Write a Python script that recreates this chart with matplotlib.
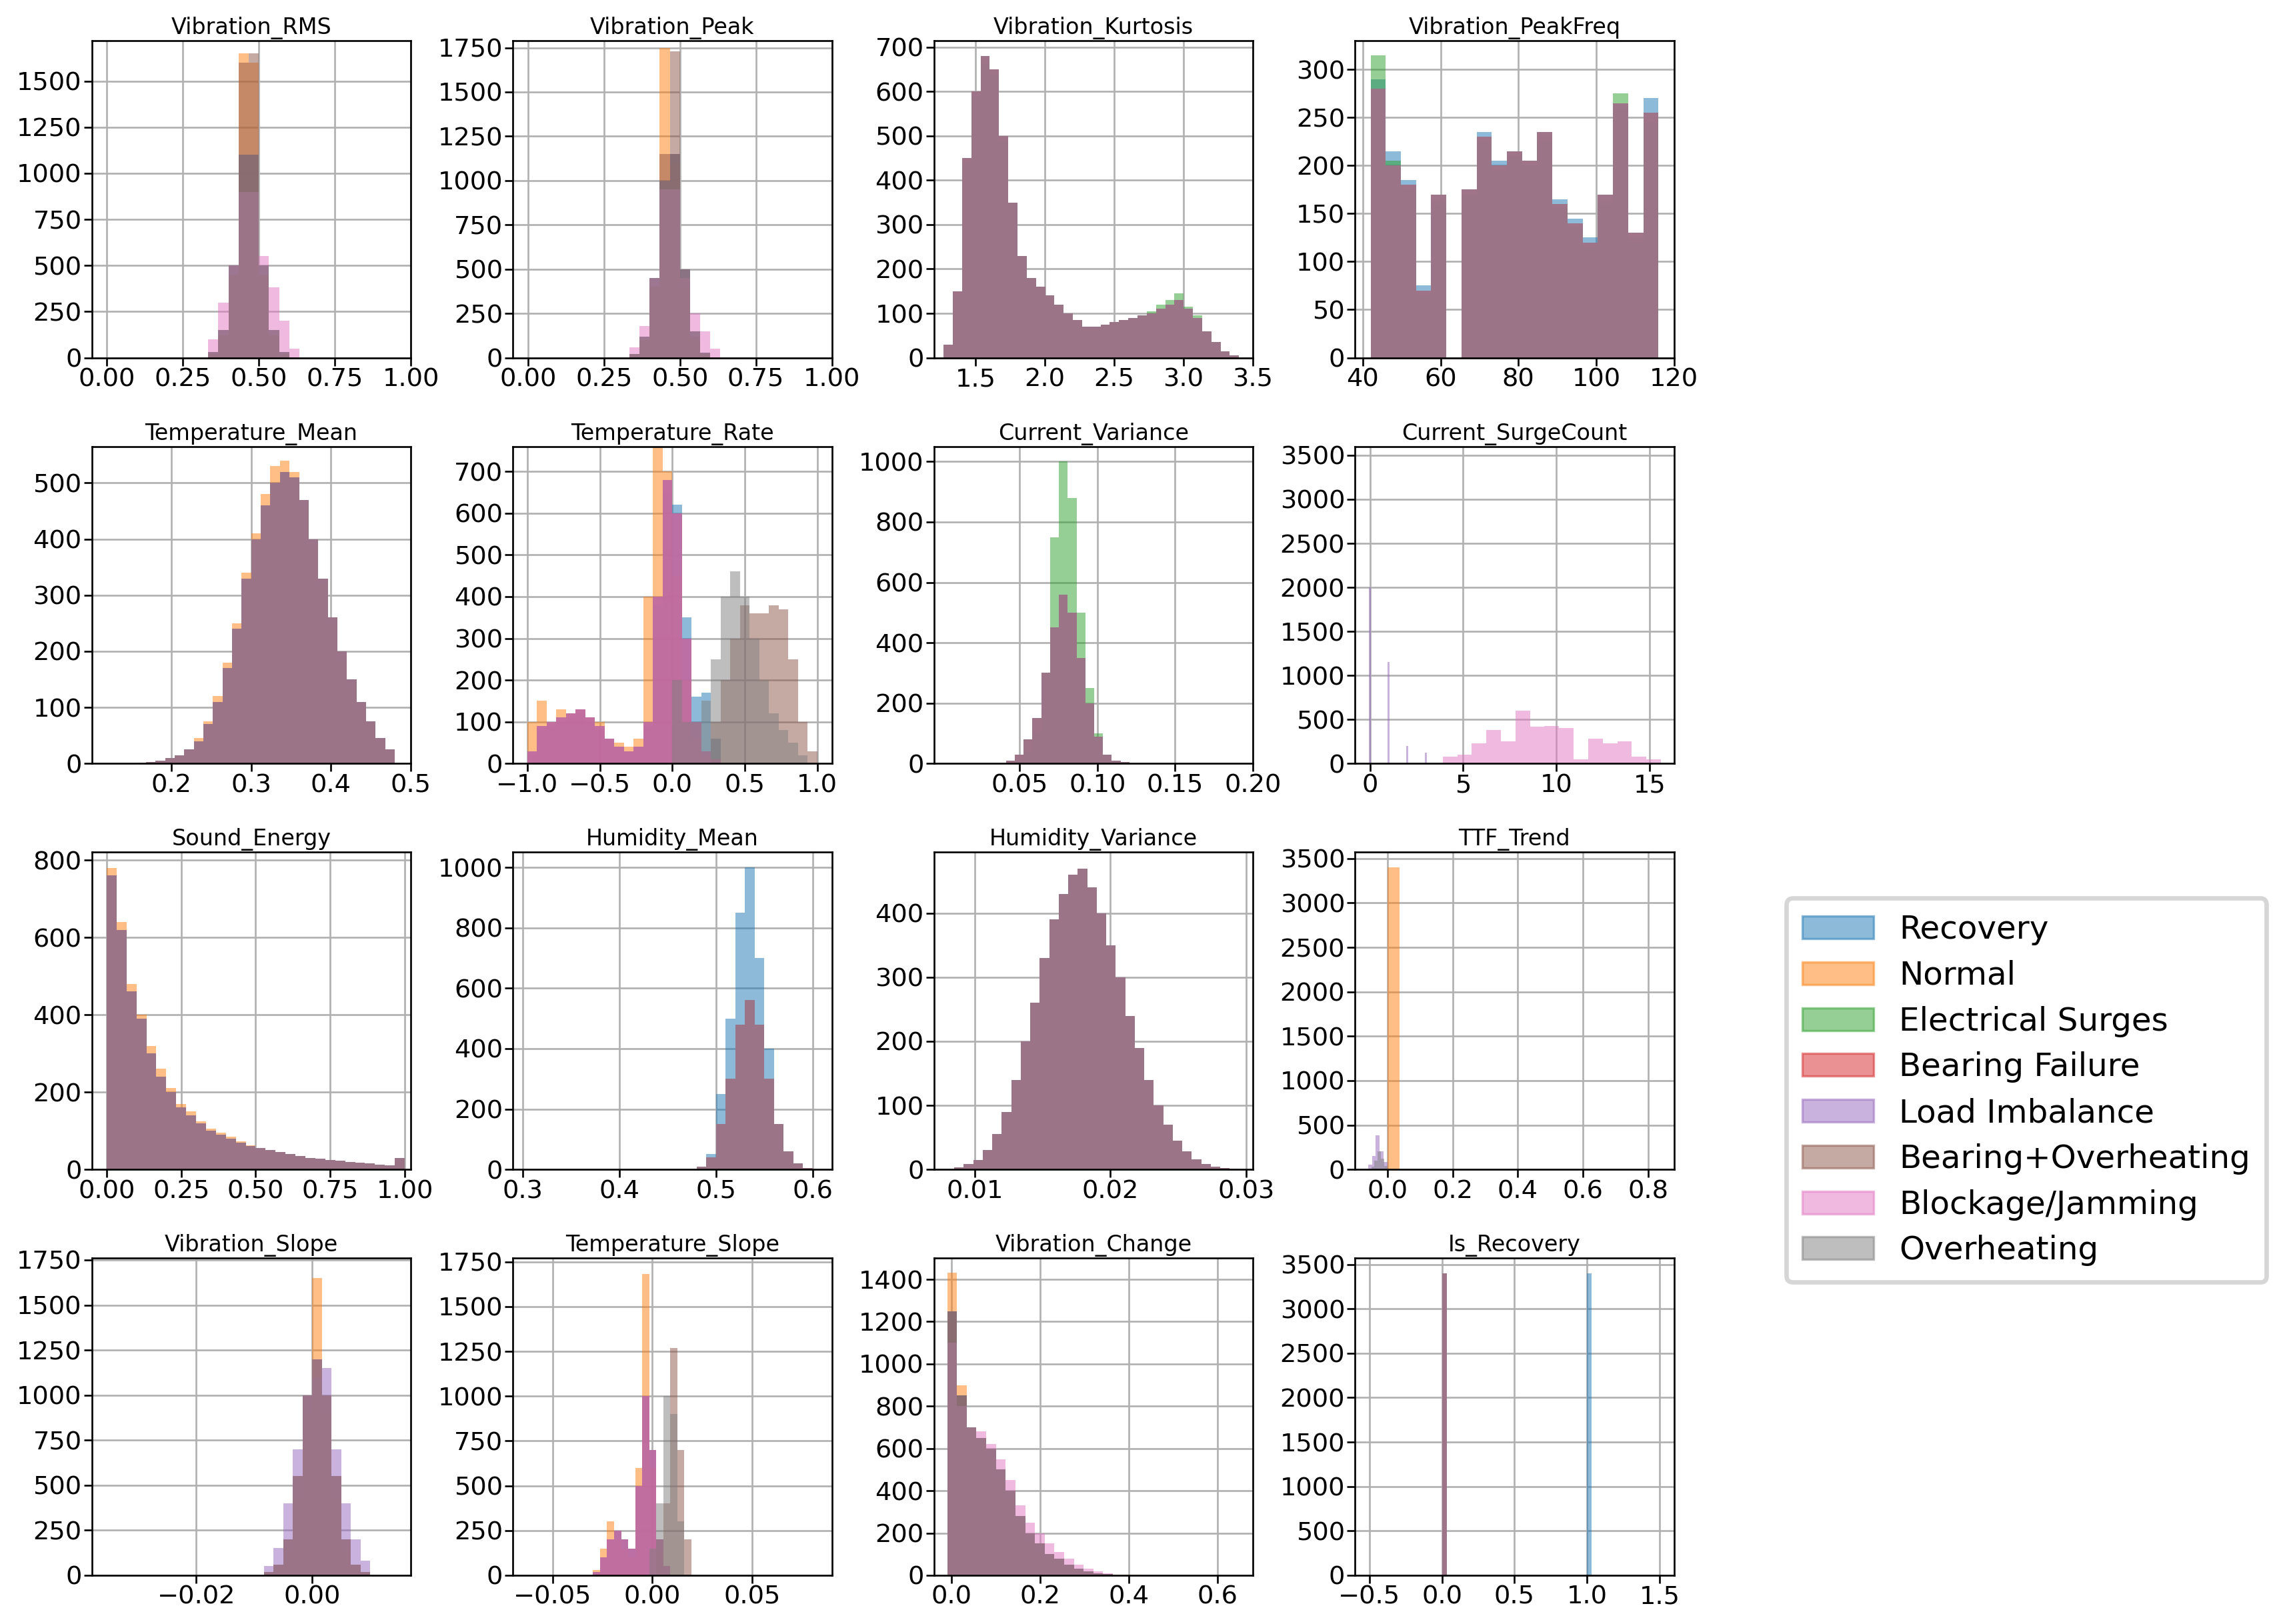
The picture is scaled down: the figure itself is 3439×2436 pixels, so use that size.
import numpy as np
import matplotlib
matplotlib.use('Agg')
from matplotlib import pyplot as plt

classes = ['Recovery', 'Normal', 'Electrical Surges', 'Bearing Failure',
           'Load Imbalance', 'Bearing+Overheating', 'Blockage/Jamming', 'Overheating']
colors = ['tab:blue', 'tab:orange', 'tab:green', 'tab:red',
          'tab:purple', 'tab:brown', 'tab:pink', 'tab:gray']

# Counts. Each panel: bin edges + a base count list shared by
# most classes, plus lists for classes that stand out. (start_bin, counts)
rms_base = (10, [30, 150, 500, 1100, 1100, 500, 150, 30])
rms_normal = (10, [20, 120, 450, 1650, 1600, 450, 120, 20])
rms_brown = (10, [20, 120, 450, 1600, 1650, 450, 120, 20])
rms_pink = (10, [100, 300, 500, 900, 900, 550, 380, 200, 50])

peak_base = (10, [20, 120, 450, 1000, 1150, 500, 150, 30])
peak_normal = (10, [20, 100, 400, 1750, 1100, 400, 100, 20])
peak_brown = (10, [20, 100, 400, 1150, 1730, 450, 120, 20])
peak_pink = (10, [60, 180, 450, 950, 950, 450, 250, 150, 50])

kurt_base = (0, [30, 150, 450, 600, 680, 650, 500, 350, 230, 180, 160, 140, 120, 100, 85, 70,
                 70, 75, 80, 85, 90, 95, 100, 110, 120, 130, 110, 90, 60, 35, 15, 5])
kurt_green = (0, [25, 140, 440, 590, 660, 640, 490, 350, 230, 180, 160, 140, 120, 100, 85, 70,
                  70, 75, 80, 85, 90, 95, 105, 120, 130, 145, 115, 95, 60, 35, 15, 5])

freq_base = (0, [280, 200, 180, 70, 170, 0, 175, 230, 200, 215, 205, 235, 160, 140, 120, 170, 265, 130, 255])
freq_green = (0, [315, 205, 175, 65, 165, 0, 170, 225, 195, 210, 200, 230, 155, 135, 115, 165, 275, 125, 245])
freq_blue = (0, [290, 215, 185, 75, 160, 0, 170, 235, 205, 210, 200, 225, 165, 145, 125, 160, 260, 120, 270])

tmean_base = (3, [2, 3, 5, 10, 15, 25, 40, 70, 110, 170, 240, 330, 400, 460, 500, 520, 510, 470,
                  400, 330, 260, 200, 150, 110, 75, 45, 25, 12])
tmean_normal = (3, [2, 3, 5, 10, 15, 25, 45, 75, 120, 180, 250, 340, 410, 480, 530, 540, 520, 460,
                    390, 320, 250, 190, 140, 100, 70, 40, 22, 10])

trate_base = (0, [30, 90, 100, 110, 120, 130, 110, 90, 60, 40, 30, 40, 100, 400, 680, 600, 300, 100, 30, 10])
trate_normal = (0, [100, 150, 100, 130, 120, 130, 110, 100, 60, 50, 40, 60, 400, 760, 700, 450, 200, 60, 20])
trate_blue = (0, [20, 80, 90, 100, 110, 120, 100, 80, 60, 40, 30, 40, 90, 380, 650, 620, 350, 160, 170, 60])
trate_gray = (15, [200, 100, 100, 150, 250, 400, 460, 400, 300, 200, 120, 80, 50, 20])
trate_brown = (19, [100, 200, 300, 380, 360, 360, 380, 370, 250, 100, 30])

cvar_base = (2, [10, 30, 80, 150, 300, 450, 560, 500, 350, 200, 90, 30, 10, 5])
cvar_green = (3, [10, 40, 100, 300, 750, 1000, 880, 500, 250, 100, 30, 10])

surge_purple = (1, [2000, 0, 0, 0, 0, 0, 0, 0, 0, 0, 1150, 0, 0, 0, 0, 0, 0, 0, 0, 0, 200,
                    0, 0, 0, 0, 0, 0, 0, 0, 0, 120])
surge_pink = (5, [80, 100, 230, 380, 250, 600, 420, 430, 400, 50, 280, 230, 250, 80, 50])

sound_base = (0, [760, 620, 460, 390, 300, 240, 200, 160, 140, 120, 100, 90, 80, 70, 60, 55, 50,
                  45, 40, 35, 30, 28, 25, 22, 20, 18, 15, 12, 10, 30])
sound_normal = (0, [780, 640, 480, 400, 320, 260, 210, 170, 150, 125, 105, 95, 85, 72, 62, 55, 50,
                    45, 40, 35, 30, 28, 25, 22, 20, 18, 15, 12, 10, 25])

hmean_base = (18, [10, 40, 150, 300, 480, 560, 480, 300, 150, 60, 20, 5])
hmean_blue = (18, [10, 50, 250, 500, 850, 1000, 700, 400, 150, 50, 20])

hvar_base = (0, [3, 8, 15, 30, 55, 90, 140, 200, 260, 330, 390, 430, 460, 470, 440, 400, 350,
                 300, 240, 190, 140, 100, 70, 45, 28, 16, 8, 4, 2, 1])

ttf_normal = (2, [3400])
ttf_purple = (0, [50, 150, 380, 200, 80])
ttf_gray = (0, [30, 100, 200, 120, 40])

vslope_base = (16, [20, 60, 200, 550, 1000, 1200, 1000, 550, 200, 60, 20])
vslope_normal = (16, [15, 50, 150, 450, 900, 1650, 900, 450, 150, 50, 15])
vslope_purple = (16, [50, 150, 400, 700, 1000, 1100, 1150, 700, 400, 200, 80])

tslope_base = (10, [20, 100, 200, 250, 200, 150, 500, 1000, 700, 200, 50])
tslope_normal = (10, [30, 150, 300, 200, 150, 100, 600, 1680, 600, 150, 30])
tslope_brown = (19, [200, 400, 1270, 700, 200])
tslope_gray = (18, [150, 400, 1000, 900, 300])

vchange_base = (0, [1250, 850, 700, 650, 600, 500, 400, 280, 200, 150, 100, 80, 50, 30, 20, 10, 5])
vchange_normal = (0, [1430, 900, 700, 640, 580, 480, 380, 260, 180, 130, 90, 70, 40, 25, 15, 8, 4, 2, 2, 2, 1])
vchange_pink = (0, [1100, 800, 700, 680, 620, 550, 450, 330, 250, 200, 150, 110, 80, 50, 30, 20, 10])

rec_base = (15, [3400])
rec_blue = (45, [3400])

panels = [
    ('Vibration_RMS', np.linspace(0, 1, 31), rms_base,
     {'Normal': rms_normal, 'Bearing+Overheating': rms_brown, 'Blockage/Jamming': rms_pink},
     (-0.05, 1.0), [0, 0.25, 0.5, 0.75, 1.0], (0, 1720), [0, 250, 500, 750, 1000, 1250, 1500]),
    ('Vibration_Peak', np.linspace(0, 1, 31), peak_base,
     {'Normal': peak_normal, 'Bearing+Overheating': peak_brown, 'Blockage/Jamming': peak_pink},
     (-0.05, 1.0), [0, 0.25, 0.5, 0.75, 1.0], (0, 1790), [0, 250, 500, 750, 1000, 1250, 1500, 1750]),
    ('Vibration_Kurtosis', np.linspace(1.27, 3.4, 33), kurt_base,
     {'Electrical Surges': kurt_green},
     (1.2, 3.5), [1.5, 2.0, 2.5, 3.0, 3.5], (0, 715), [0, 100, 200, 300, 400, 500, 600, 700]),
    ('Vibration_PeakFreq', np.linspace(42, 116, 20), freq_base,
     {'Electrical Surges': freq_green, 'Recovery': freq_blue},
     (38, 120), [40, 60, 80, 100, 120], (0, 330), [0, 50, 100, 150, 200, 250, 300]),
    ('Temperature_Mean', np.linspace(0.12, 0.48, 31), tmean_base,
     {'Normal': tmean_normal},
     (0.1, 0.5), [0.2, 0.3, 0.4, 0.5], (0, 565), [0, 100, 200, 300, 400, 500]),
    ('Temperature_Rate', np.linspace(-1, 1, 31), trate_base,
     {'Normal': trate_normal, 'Recovery': trate_blue, 'Overheating': trate_gray,
      'Bearing+Overheating': trate_brown},
     (-1.1, 1.1), [-1.0, -0.5, 0.0, 0.5, 1.0], (0, 760), [0, 100, 200, 300, 400, 500, 600, 700]),
    ('Current_Variance', np.linspace(0.03, 0.2, 31), cvar_base,
     {'Electrical Surges': cvar_green},
     (-0.005, 0.2), [0.05, 0.10, 0.15, 0.20], (0, 1050), [0, 200, 400, 600, 800, 1000]),
    ('Current_SurgeCount', None, None, {},
     (-0.8, 16.3), [0, 5, 10, 15], (0, 3600), [0, 500, 1000, 1500, 2000, 2500, 3000, 3500]),
    ('Sound_Energy', np.linspace(0, 1, 31), sound_base,
     {'Normal': sound_normal},
     (-0.05, 1.02), [0, 0.25, 0.5, 0.75, 1.0], (0, 820), [0, 200, 400, 600, 800]),
    ('Humidity_Mean', np.linspace(0.3, 0.61, 32), hmean_base,
     {'Recovery': hmean_blue},
     (0.29, 0.62), [0.3, 0.4, 0.5, 0.6], (0, 1050), [0, 200, 400, 600, 800, 1000]),
    ('Humidity_Variance', np.linspace(0.0085, 0.0295, 31), hvar_base, {},
     (0.007, 0.0305), [0.010, 0.020, 0.030], (0, 495), [0, 100, 200, 300, 400]),
    ('TTF_Trend', None, None, {},
     (-0.1, 0.88), [0.0, 0.2, 0.4, 0.6, 0.8], (0, 3570), [0, 500, 1000, 1500, 2000, 2500, 3000, 3500]),
    ('Vibration_Slope', np.linspace(-0.035, 0.015, 31), vslope_base,
     {'Normal': vslope_normal, 'Load Imbalance': vslope_purple},
     (-0.038, 0.017), [-0.02, 0.0], (0, 1760), [0, 250, 500, 750, 1000, 1250, 1500, 1750]),
    ('Temperature_Slope', np.linspace(-0.065, 0.09, 45), tslope_base,
     {'Normal': tslope_normal, 'Bearing+Overheating': tslope_brown, 'Overheating': tslope_gray},
     (-0.07, 0.09), [-0.05, 0.0, 0.05], (0, 1770), [0, 250, 500, 750, 1000, 1250, 1500, 1750]),
    ('Vibration_Change', np.linspace(-0.01, 0.65, 31), vchange_base,
     {'Normal': vchange_normal, 'Blockage/Jamming': vchange_pink},
     (-0.04, 0.68), [0.0, 0.2, 0.4, 0.6], (0, 1500), [0, 200, 400, 600, 800, 1000, 1200, 1400]),
    ('Is_Recovery', np.linspace(-0.5, 1.5, 61), rec_base,
     {'Recovery': rec_blue},
     (-0.6, 1.6), [-0.5, 0.0, 0.5, 1.0, 1.5], (0, 3570), [0, 500, 1000, 1500, 2000, 2500, 3000, 3500]),
]


def draw(ax, edges, series, color):
    start, vals = series
    counts = np.zeros(len(edges) - 1)
    counts[start:start + len(vals)] = vals[:len(counts) - start]
    ax.hist(edges[:-1], bins=edges, weights=counts, color=color, alpha=0.5)


fig, axes = plt.subplots(4, 4, figsize=(14.33, 10.15), dpi=240)
plt.subplots_adjust(left=0.04, right=0.73, top=0.975, bottom=0.03, wspace=0.32, hspace=0.28)

for ax, (title, edges, base, special, xl, xt, yl, yt) in zip(axes.flat, panels):
    for cls, col in zip(classes, colors):
        if title == 'Current_SurgeCount':
            if cls == 'Load Imbalance':
                draw(ax, np.linspace(-0.15, 3.15, 34), surge_purple, col)
            elif cls == 'Blockage/Jamming':
                draw(ax, np.linspace(0, 15.6, 21), surge_pink, col)
            else:
                draw(ax, np.linspace(0, 15.6, 21), (0, [0]), col)
            continue
        if title == 'TTF_Trend':
            if cls == 'Normal':
                draw(ax, np.linspace(-0.075, 0.825, 25), ttf_normal, col)
            elif cls == 'Load Imbalance':
                draw(ax, np.linspace(-0.06, 0.0, 6), ttf_purple, col)
            elif cls == 'Overheating':
                draw(ax, np.linspace(-0.05, 0.0, 6), ttf_gray, col)
            else:
                draw(ax, np.linspace(-0.05, 0.0, 6), (0, [0]), col)
            continue
        draw(ax, edges, special.get(cls, base), col)
    ax.set_title(title, fontsize=10, pad=3)
    ax.set_xlim(*xl)
    ax.set_xticks(xt)
    ax.set_ylim(*yl)
    ax.set_yticks(yt)
    ax.tick_params(labelsize=11.5, pad=1)
    ax.grid(True, color='#b0b0b0', linewidth=0.8)
    ax.set_axisbelow(True)

handles = [plt.Rectangle((0, 0), 1, 1, color=c, alpha=0.5) for c in colors]
fig.legend(handles, classes, loc='upper left', bbox_to_anchor=(0.772, 0.457),
           fontsize=14.5, frameon=True, borderpad=0.5, labelspacing=0.45,
           handlelength=2.2, edgecolor='#cccccc', fancybox=True)
fig.legends[0].get_frame().set_linewidth(2)

plt.savefig('out.png', dpi=240)
